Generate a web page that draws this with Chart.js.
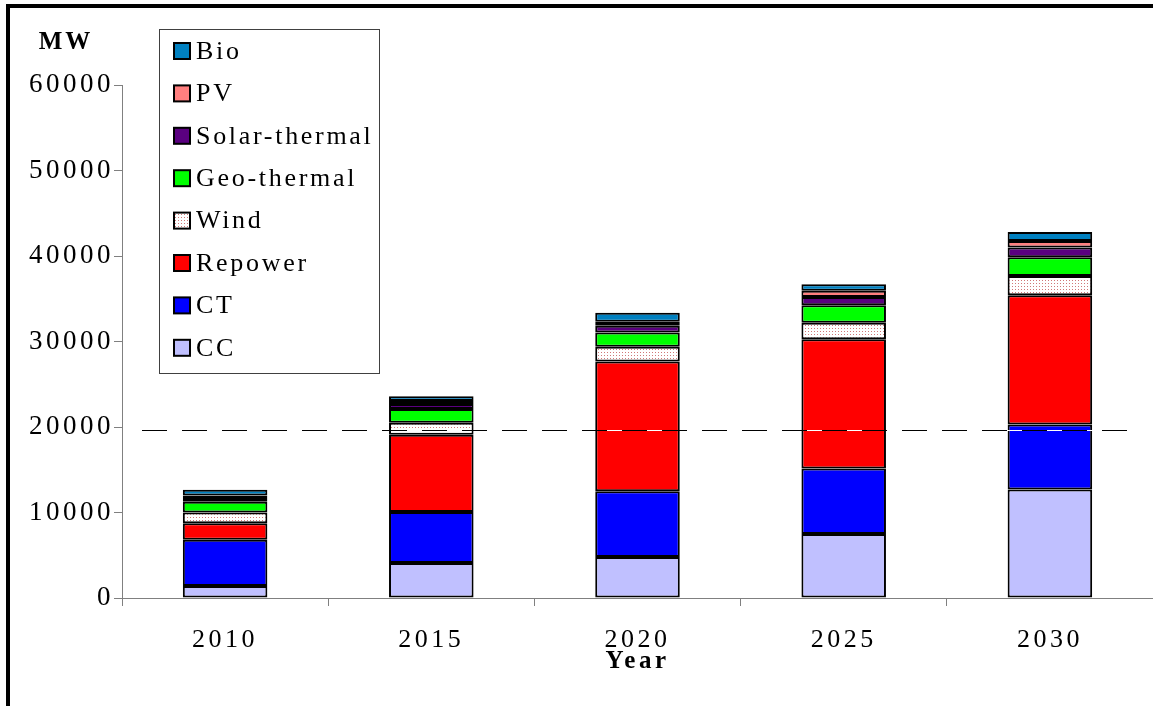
<!DOCTYPE html>
<html>
<head>
<meta charset="utf-8">
<title>Capacidad instalada (MW)</title>
<script src="https://cdn.jsdelivr.net/npm/chart.js@4/dist/chart.umd.min.js"></script>
<style>
    html, body { margin: 0; padding: 0; background: #ffffff; }
    #contenedor { position: relative; width: 1153px; height: 706px; }
</style>
</head>
<body>
<div id="contenedor"><canvas id="chartCapacidad"></canvas></div>
<script>
// Datos por año (MW), de abajo hacia arriba en cada barra
const anios = ['2010', '2015', '2020', '2025', '2030'];
const cc = [1400, 4100, 4800, 7500, 12700];
const ct = [5400, 5950, 7700, 7650, 7600];
const repower = [1950, 9050, 15150, 15100, 15100];
const wind = [1250, 1400, 1750, 1950, 2250];
const geo = [1250, 1600, 1650, 2050, 2200];
const solar = [450, 600, 800, 950, 1150];
const pv = [300, 350, 450, 750, 750];
const bio = [650, 550, 1050, 750, 1050];

const ticksY = [0, 10000, 20000, 30000, 40000, 50000, 60000];
const lineaReferencia = 19600;

const FUENTE = "'Liberation Serif', 'Times New Roman', serif";

const canvas = document.getElementById('chartCapacidad');
const ctx = canvas.getContext('2d');

// Relleno punteado para la eólica
function patronViento() {
    const c = document.createElement('canvas');
    c.width = 3; c.height = 3;
    const g = c.getContext('2d');
    g.fillStyle = '#ffffff';
    g.fillRect(0, 0, 3, 3);
    g.fillStyle = '#d07878';
    g.fillRect(1, 1, 1, 1);
    return ctx.createPattern(c, 'repeat');
}

function serie(label, data, color) {
    return {
        label: label,
        data: data,
        backgroundColor: color,
        borderColor: '#000000',
        borderWidth: 2,
        borderSkipped: false,
        categoryPercentage: 1,
        barPercentage: 0.41
    };
}

// Marco, título del eje Y, leyenda y línea discontinua
const decoracion = {
    id: 'decoracion',
    beforeDraw(chart) {
        chart.ctx.letterSpacing = '3.5px';
    },
    afterDatasetsDraw(chart) {
        const c = chart.ctx;
        const y = Math.round(chart.scales.y.getPixelForValue(lineaReferencia)) + 0.5;
        c.save();
        c.lineWidth = 1;
        c.strokeStyle = '#ffffff';
        c.beginPath(); c.moveTo(142, y); c.lineTo(1130, y); c.stroke();
        c.strokeStyle = '#000000';
        c.setLineDash([25, 15]);
        c.beginPath(); c.moveTo(142, y); c.lineTo(1130, y); c.stroke();
        c.restore();
    },
    afterDraw(chart) {
        const c = chart.ctx;
        c.save();
        // marco negro grueso
        c.fillStyle = '#000000';
        c.fillRect(6, 4, 1153, 4);
        c.fillRect(6, 4, 4, 706);

        // etiqueta MW
        c.letterSpacing = '3px';
        c.font = 'bold 25px ' + FUENTE;
        c.textAlign = 'center';
        c.textBaseline = 'middle';
        c.fillText('MW', 66, 43);

        // leyenda (orden inverso: la capa superior primero)
        c.fillStyle = '#ffffff';
        c.fillRect(159.5, 29.5, 220, 344);
        c.strokeStyle = '#404040';
        c.lineWidth = 1;
        c.strokeRect(159.5, 29.5, 220, 344);
        c.letterSpacing = '2.7px';
        c.font = '26px ' + FUENTE;
        c.textAlign = 'left';
        const ds = chart.data.datasets.slice().reverse();
        ds.forEach((d, k) => {
            const yc = 51 + k * 42.4;
            c.fillStyle = d.backgroundColor;
            c.fillRect(174, yc - 8, 16, 16);
            c.strokeStyle = '#000000';
            c.lineWidth = 2;
            c.strokeRect(174, yc - 8, 16, 16);
            c.fillStyle = '#000000';
            c.fillText(d.label, 196, yc + 1);
        });
        c.restore();
    }
};

new Chart(ctx, {
    type: 'bar',
    data: {
        labels: anios,
        datasets: [
            serie('CC', cc, '#c0c0ff'),
            serie('CT', ct, '#0000ff'),
            serie('Repower', repower, '#ff0000'),
            serie('Wind', wind, patronViento()),
            serie('Geo-thermal', geo, '#00ff00'),
            serie('Solar-thermal', solar, '#5a0080'),
            serie('PV', pv, '#ff7f7f'),
            serie('Bio', bio, '#0080c0')
        ]
    },
    options: {
        responsive: true,
        maintainAspectRatio: false,
        devicePixelRatio: 1,
        animation: false,
        layout: { padding: { left: 0, top: 85, right: 0, bottom: 0 } },
        plugins: {
            legend: { display: false },
            tooltip: { enabled: false }
        },
        scales: {
            x: {
                stacked: true,
                offset: true,
                grid: { offset: true, drawOnChartArea: false, drawTicks: true, tickLength: 8, color: '#808080' },
                border: { display: true, color: '#808080', width: 1 },
                ticks: { color: '#000000', font: { family: FUENTE, size: 26 }, padding: 19 },
                title: {
                    display: true,
                    text: 'Year',
                    color: '#000000',
                    font: { family: FUENTE, size: 25, weight: 'bold' },
                    padding: { top: 0, bottom: 29 }
                },
                afterFit: (s) => { s.height = 108; }
            },
            y: {
                stacked: true,
                min: 0,
                max: 60000,
                afterBuildTicks: (s) => { s.ticks = ticksY.map(v => ({ value: v })); },
                grid: { drawOnChartArea: false, drawTicks: true, tickLength: 8, color: '#808080' },
                border: { display: true, color: '#808080', width: 1 },
                ticks: {
                    color: '#000000',
                    font: { family: FUENTE, size: 27 },
                    padding: 0,
                    callback: (v) => String(v)
                },
                afterFit: (s) => { s.width = 122; }
            }
        }
    },
    plugins: [decoracion]
});
</script>
</body>
</html>
